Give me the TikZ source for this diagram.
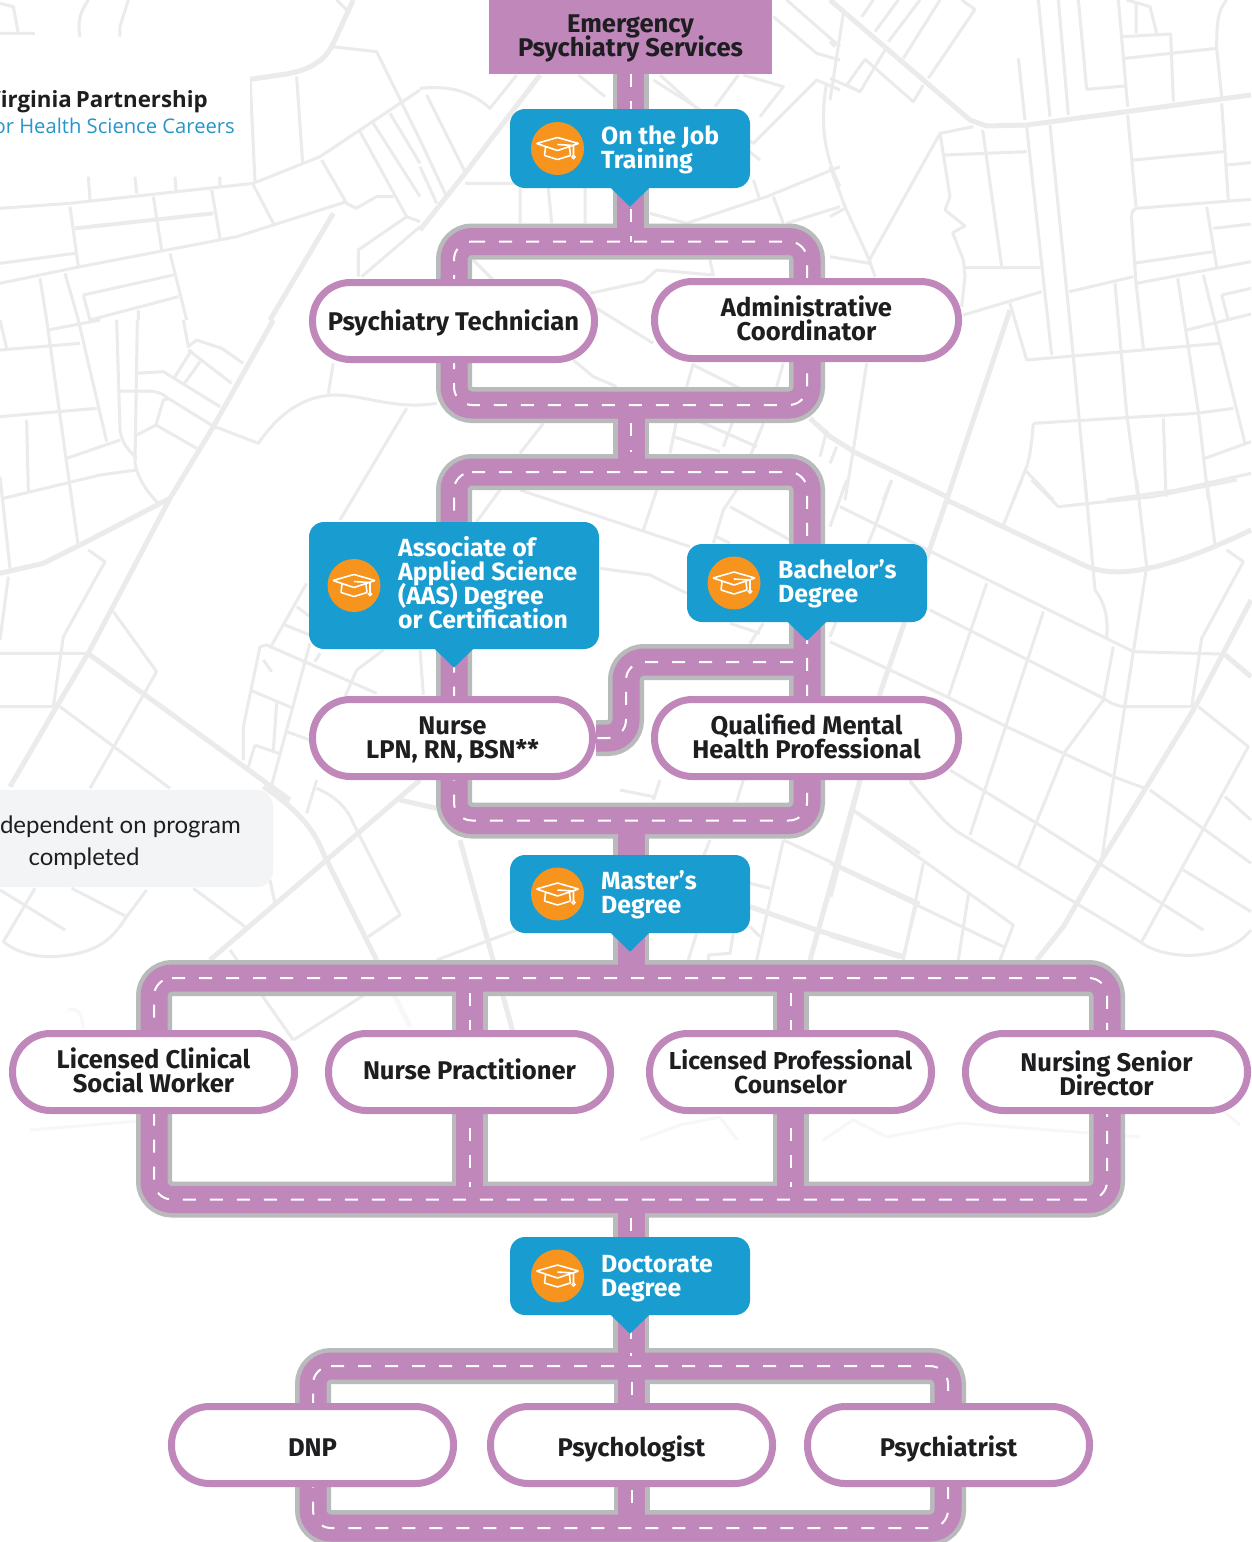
\documentclass[tikz,border=0pt]{standalone}
\usepackage{fontspec}
\setmainfont{Fira Sans}
\newfontfamily\logofont{Open Sans}
\newfontfamily\notefont{Lato}
\usetikzlibrary{calc}
\definecolor{roadpurple}{HTML}{C087BB}
\definecolor{roadgray}{HTML}{B9BABC}
\definecolor{calloutblue}{HTML}{199CCF}
\definecolor{iconorange}{HTML}{F7941E}
\definecolor{mapgray}{HTML}{EBEBEB}
\definecolor{mapfaint}{HTML}{F7F7F7}
\definecolor{notebg}{HTML}{F3F4F6}
\definecolor{inkdark}{HTML}{1E1E20}
\definecolor{logoblue}{HTML}{2796C8}
\pgfdeclarelayer{maplayer}
\pgfdeclarelayer{rg}
\pgfdeclarelayer{rp}
\pgfdeclarelayer{rw}
\pgfsetlayers{maplayer,rg,rp,rw,main}
\newcommand{\tightlines}{\lineskiplimit=-100pt\relax}
\newcommand{\tightword}{\spaceskip=4pt\relax}
\tikzset{
  mapthin/.style={draw=mapgray,line width=3pt,line join=round},
  mapthick/.style={draw=mapgray,line width=5pt,line join=round},
  mapfade/.style={draw=mapfaint,line width=3pt,line join=round},
  roadbase/.style={draw=roadgray,line width=36pt},
  roadtop/.style={draw=roadpurple,line width=27pt},
  roaddash/.style={draw=white,line width=2pt,dash pattern=on 13pt off 14pt},
  pillshape/.style={draw=roadpurple,line width=7pt,fill=white,rounded corners=38pt,inner sep=0pt,minimum height=77pt},
  pilltext/.style={inner sep=0pt,align=center,text=inkdark,font=\bfseries\fontsize{25.6}{24}\selectfont\tightlines},
  smallpilltext/.style={pilltext,font=\bfseries\fontsize{24.5}{24}\selectfont\tightlines},
  callout/.style={fill=calloutblue,rounded corners=15pt,inner sep=0pt},
  callouttext/.style={anchor=west,text=white,align=left,inner sep=0pt,font=\bfseries\fontsize{24.8}{24}\selectfont\tightlines},
  iconcircle/.style={circle,fill=iconorange,minimum size=53pt,inner sep=0pt},
  gradcap/.pic={
    \draw[white,line width=1.6pt,line join=round,rounded corners=0.5pt]
      (-21,-5) -- (0,-11) -- (21,-5) -- (0,2) -- cycle
      (-12,-1) -- (-13,7) -- (0,11) -- (13,7) -- (12,-1)
      (0,-4) -- (16,-3) -- (16,7);
    \draw[white,line width=1.3pt] (16,8.5) circle (1.6);
  }
}
% road: grey bed, purple surface, white centre line; #1 = options of the white line only
\newcommand{\road}[2][]{%
  \begin{pgfonlayer}{rg}\draw[roadbase] #2;\end{pgfonlayer}%
  \begin{pgfonlayer}{rp}\draw[roadtop] #2;\end{pgfonlayer}%
  \begin{pgfonlayer}{rw}\draw[roaddash,#1] #2;\end{pgfonlayer}}
\newcommand{\plainroad}[1]{%
  \begin{pgfonlayer}{rg}\draw[roadbase] #1;\end{pgfonlayer}%
  \begin{pgfonlayer}{rp}\draw[roadtop] #1;\end{pgfonlayer}}
\newcommand{\calloutnode}[6]{% name, x1,y1,x2,y2, icon x
  \node[callout,minimum width=#4pt-#2pt,minimum height=#5pt-#3pt] (#1) at ({(#2+#4)/2},{(#3+#5)/2}) {};
  \fill[calloutblue] ($(#1.south)+(-20,-1)$) -- ($(#1.south)+(0,18.5)$) -- ($(#1.south)+(20,-1)$) -- cycle;
  \node[iconcircle] (#1icon) at (#6,{(#3+#5)/2}) {};
  \pic at (#1icon) {gradcap};
}
\newcommand{\pillnode}[7][pilltext]{% text style, name, cx, cy, inner width, text cy, text
  \node[pillshape,minimum width=#5pt] (#2) at (#3,#4) {};
  \node[#1] (#2t) at (#3,#6) {#7};
}
\begin{document}
\begin{tikzpicture}[x=1pt,y=-1pt]
\useasboundingbox (0,0) rectangle (1251,1542);
\begin{pgfonlayer}{maplayer}
\fill[white] (0,0) rectangle (1251,1542);
% zoom A: top-left
\begin{scope}[shift={(0,0)},x=0.33333pt,y=-0.33333pt]
\draw[mapthin] (0,625)--(210,610)--(760,550)--(960,470)--(1260,270)
 (750,230)--(765,545) (890,230)--(908,490) (995,140)--(1130,155)--(1260,420)
 (965,480)--(1040,610)--(1068,625)--(1130,590)--(1180,590)
 (1170,340)--(1260,490) (1120,370)--(1260,590) (1080,395)--(1220,650)--(1260,665)
 (1220,650)--(1075,750)--(1075,830) (1260,680)--(1085,830)
 (760,555)--(820,670) (265,530)--(270,600) (405,530)--(410,580) (525,530)--(528,570) (660,530)--(660,555)
 (210,620)--(235,800) (460,590)--(485,750) (635,570)--(660,715)
 (0,790)--(225,760) (0,850)--(240,800)--(710,710)--(1040,605)
 (510,760)--(560,960) (120,835)--(140,960) (195,820)--(235,960)
 (250,885)--(520,825) (250,885)--(270,960)--(535,890) (415,930)--(415,960)
 (0,10)--(40,20)--(55,100) (0,100)--(105,100)
 (240,110) .. controls (230,60) and (245,30) .. (265,0) (360,110)--(360,80)--(385,0) (1010,0)--(1040,30);
\draw[mapthin,line width=4pt] (225,685)--(640,640);
\draw[mapthick] (750,238)--(860,222) .. controls (950,205) and (980,170) .. (1000,130)--(1060,0);
\draw[mapthick] (1000,640)--(810,960);
\end{scope}
% zoom B: centre top
\begin{scope}[shift={(420,0)},x=0.33333pt,y=-0.33333pt]
\draw[mapthin] (0,265) .. controls (100,255) and (160,280) .. (210,325)--(290,225)
 (20,285)--(135,515) (0,420)--(80,590) (0,500)--(50,610) (135,550)--(290,550)
 (300,560)--(300,670) (385,565)--(395,670) (495,565)--(495,670)
 (160,780)--(215,835) (475,225)--(555,290)
 (1100,0)--(1260,140) (720,225)--(880,370)--(1020,480) (700,240)--(1000,430)--(1190,240)--(1260,270)
 (955,225)--(885,320) (970,225)--(1090,260)--(1020,350)
 (1260,500)--(1040,590)--(800,670)--(690,640) (1000,540)--(1020,600) (1060,590)--(1090,670) (1260,620)--(1100,670)
 (1060,50)--(1190,160)--(1260,180);
\draw[mapthin] (1220,250) .. controls (1200,360) and (1210,460) .. (1260,560);
\draw[mapthick] (360,225)--(135,520)--(0,690);
\end{scope}
% zoom C: right top
\begin{scope}[shift={(830,0)},x=0.33333pt,y=-0.33333pt]
\draw[mapthick] (0,0)--(420,360)--(470,378)--(590,375)--(1263,285);
\draw[mapthick] (540,930)--(350,1500);
\draw[mapthick] (-60,1255)--(0,1310)--(80,1360)--(350,1490);
\draw[mapthin] (625,0)--(660,350) (685,0)--(715,345) (745,0)--(770,268)--(885,258)
 (865,0)--(893,320) (890,0)--(960,20)--(980,100) (918,10)--(918,100)
 (878,110)--(1022,102)--(1030,305) (885,175)--(1160,145)
 (1190,0) .. controls (1165,30) and (1160,60) .. (1160,145)--(1175,290)
 (565,175)--(585,360) (1175,310)--(1195,600) (1190,495)--(1263,488)
 (893,345)--(918,620) (910,480)--(1180,455) (430,380)--(330,400)--(118,780)
 (330,400)--(360,590)--(345,630)--(405,678)--(368,698)--(400,780)--(405,830)--(395,920)
 (405,803)--(630,803) (345,465)--(590,455) (458,390)--(515,800)
 (590,380)--(665,1065) (660,375)--(730,1070)--(770,1500)
 (400,945)--(635,875) (718,875)--(910,830) (920,850)--(1263,785)
 (920,625) .. controls (905,630) and (905,640) .. (905,660)--(918,850)--(940,1045)
 (920,625)--(1263,598) (1130,620)--(1160,800) (1150,685)--(1263,672) (910,790)--(1150,755)
 (855,850)--(890,1240)--(925,1500) (1043,835)--(1105,1235)--(1135,1500) (1120,825)--(1245,1330)
 (540,910)--(590,1080)--(1170,1030) (1175,885)--(1263,865) (1175,885)--(1195,960)
 (1070,990)--(1263,942) (610,1270)--(1100,1240)--(1210,1225)
 (610,1270) .. controls (605,1330) and (600,1370) .. (590,1400)--(550,1500) (590,1415)--(670,1500)
 (1000,1255)--(1008,1490) (1125,1375)--(1263,1325) (830,1500)--(1040,1470)--(1263,1420)
 (40,40)--(0,300) (130,0)--(95,50) (205,0)--(135,95) (270,0)--(175,125)
 (165,150)--(90,275)--(0,235) (90,275)--(50,255)--(105,178)--(250,305)--(280,255)
 (330,0)--(220,175) (395,0)--(435,28)--(295,235) (0,125)--(15,140)
 (0,500)--(45,620)--(118,780)--(135,830) (0,650)--(45,625) (0,770)--(118,790)
 (110,1090)--(70,1350)--(45,1500) (185,1440)--(160,1500) (20,1340)--(0,1390);
\end{scope}
% zoom D: centre
\begin{scope}[shift={(430,250)},x=0.33333pt,y=-0.33333pt]
\draw[mapthin] (130,30)--(190,90) (480,130)--(640,95)--(680,60)--(850,75)--(840,30)
 (500,175)--(670,280) (430,330)--(490,380)--(560,410) (790,340)--(770,410) (790,345)--(930,415) (1060,340)--(1040,410)
 (340,520)--(270,610) (740,510)--(720,610) (730,560)--(870,605) (800,510)--(980,590) (910,510)--(880,590) (1000,520)--(960,620)
 (1190,540)--(1170,620)
 (210,720)--(140,815) (270,720)--(780,890) (680,720)--(640,840) (920,720)--(880,780)--(850,880) (900,770)--(1080,870) (860,860)--(900,880)
 (510,955)--(660,975)--(770,1030) (900,1120)--(990,1150) (960,1180)--(1000,1120);
\end{scope}
% zoom E: right middle
\begin{scope}[shift={(830,480)},x=0.33333pt,y=-0.33333pt]
\draw[mapthick] (350,60)--(750,250) .. controls (830,290) and (950,300) .. (1263,150);
\draw[mapthick] (350,60)--(150,640)--(90,900)--(0,1250);
\draw[mapthick] (1263,360)--(1090,690)--(950,920)--(815,1140)--(700,1340)--(620,1440);
\draw[mapthick] (1180,520)--(1263,590) (0,1365)--(210,1430);
\draw[mapthin] (30,80)--(910,515)--(1170,522) (185,0)--(135,140)--(0,470) (50,0)--(0,140)
 (300,390)--(820,655) .. controls (850,675) and (870,680) .. (890,680)--(1085,680)
 (0,485)--(350,650)--(530,740)--(850,890)--(945,925)
 (575,0)--(520,135) (470,310)--(355,650) (640,395)--(420,1065)
 (605,0)--(685,80)--(970,50)--(1220,0)
 (765,0)--(795,330) .. controls (825,370) and (835,410) .. (830,475)
 (920,0)--(950,260)--(910,515)--(850,900)--(815,1140) (1130,0)--(1155,195)
 (850,500)--(820,660)--(705,815)--(565,1160)
 (1190,210)--(1240,245)--(1115,475)--(1085,680)
 (1105,680)--(1255,800)--(935,1385)
 (360,870)--(620,1030)--(1120,1350) (960,930)--(1263,1150) (1185,950)--(1263,1020)
 (240,905) .. controls (290,960) and (340,1030) .. (390,1060)--(930,1385) .. controls (1000,1440) and (1180,1450) .. (1263,1350)
 (1060,1170)--(1263,1295) (75,995)--(550,1335)--(510,1440)
 (0,1150)--(520,1400) (280,1150)--(220,1440) (415,1245)--(385,1440);
\end{scope}
% zoom F: left middle
\begin{scope}[shift={(0,320)},x=0.33333pt,y=-0.33333pt]
\draw[mapthin] (0,90)--(240,70) (145,30)--(300,0) (140,0)--(235,680) (235,0)--(320,365)
 (0,290)--(290,265) (80,300)--(85,515) (0,0)--(20,85) (0,470)--(30,745)
 (10,535)--(300,465)--(410,450) (200,415)--(360,360)
 (350,0)--(360,330) .. controls (365,370) and (385,390) .. (410,415)
 (412,0)--(405,430) .. controls (415,480) and (445,520) .. (475,550)
 (360,213)--(430,213) .. controls (460,213) and (480,215) .. (500,232)--(650,325)
 (410,160)--(490,155)--(660,260)
 (550,0)--(565,80)--(590,60)--(665,85)--(730,130)
 (575,90)--(525,170) (600,125)--(550,195) (565,90)--(695,190)
 (508,235)--(490,240)--(468,315)--(590,385) (410,345)--(468,315)
 (645,320)--(775,370) .. controls (830,290) and (900,230) .. (1000,225) .. controls (1100,225) and (1180,270) .. (1310,250)
 (1000,130)--(985,220) (1220,265)--(1020,600) (920,790)--(810,985)
 (1130,1120)--(800,975)--(780,980)--(730,1220)--(730,1320)
 (890,860)--(930,890) (855,915)--(930,945) (930,970)--(815,1395)
 (750,1110)--(880,1165) (830,1150)--(820,1290) (765,1275)--(835,1300) (765,1275)--(745,1340) (860,1235)--(930,1260)
 (960,1000)--(945,1025) (1150,990)--(1070,1050)--(1035,1130) (1260,990)--(1270,1125) (790,1020)--(815,1055)
 (0,1000)--(270,1000) (0,1160)--(170,1160) (180,1160)--(510,1405)
 (265,690)--(315,725)--(190,950)--(160,1160) (25,770)--(0,960)
 (340,875)--(470,1055)--(270,1405);
\draw[mapthick] (820,0)--(640,320)--(510,535)--(270,990)--(170,1160)--(30,1400);
\draw[mapthick] (0,760)--(130,730)--(250,670)--(510,535);
\draw[mapthick] (270,1005)--(870,1440);
\end{scope}
% zoom G: lower left
\begin{scope}[shift={(0,780)},x=0.33333pt,y=-0.33333pt]
\draw[mapthick] (790,20) .. controls (880,80) and (940,140) .. (970,220)--(1130,540);
\draw[mapthick] (1260,0)--(630,540) (1200,60)--(1310,85) (1380,180)--(1540,760);
\draw[mapthin] (950,0)--(920,100) (950,25) .. controls (1010,50) and (1045,90) .. (1060,130)--(1200,405)--(1105,470)
 (810,300)--(825,370) (580,325)--(735,440)
 (105,325)--(10,485) .. controls (60,525) and (120,530) .. (150,530) .. controls (300,525) and (340,470) .. (380,410)--(440,330)
 (215,325)--(380,410) (0,330)--(195,450)
 (690,510)--(880,780) (1100,640)--(880,780) (1310,540)--(1550,450);
\draw[mapthick,draw=mapfaint] (1130,540)--(1230,740);
\draw[mapfade] (205,690) .. controls (240,680) and (245,710) .. (250,745);
\end{scope}
% zoom H: centre below
\begin{scope}[shift={(620,780)},x=0.33333pt,y=-0.33333pt]
\draw[mapthick] (720,0)--(570,540) (390,380)--(590,450)--(850,530);
\draw[mapthin] (700,90)--(900,220) (490,180)--(410,540) (490,180)--(900,370)
 (390,310)--(450,325) (270,180)--(250,230) (230,460)--(205,540)
 (340,460)--(330,520)--(265,525)--(265,540) (390,440)--(420,470)
 (890,370)--(850,530) (870,0)--(900,40) (0,30)--(100,50) (120,0)--(100,60) (370,0)--(350,65);
\end{scope}
% faint lower part
\draw[mapfade] (640,1140)--(680,1125)--(720,1117)--(737,1140) (823,1140)--(853,1120)--(887,1137)--(960,1123)--(1140,1137)
 (1140,1040)--(1180,1075)--(1240,1125) (1000,1040)--(1070,1100)--(1130,1060)
 (30,1130)--(150,1120) (880,1040)--(930,1085);
% logo panel
\fill[white] (0,37) rectangle (250,176);
\end{pgfonlayer}

% logo and note
\node[anchor=east,inner sep=0pt,text=inkdark,font=\logofont\bfseries\fontsize{22.3}{24}\selectfont\tightword] (logoa) at (208,102) {Virginia Partnership};
\node[anchor=east,inner sep=0pt,text=logoblue,font=\logofont\fontsize{20.2}{24}\selectfont] (logob) at (235,126) {for Health Science Careers};
\fill[notebg,rounded corners=16pt] (-40,790) rectangle (273,887);
\node[anchor=east,inner sep=0pt,text=inkdark,font=\notefont\fontsize{24}{24}\selectfont] (notea) at (241,827) {dependent on program};
\node[inner sep=0pt,text=inkdark,font=\notefont\fontsize{24}{24}\selectfont] (noteb) at (84,859) {completed};

% terminal box
\node[fill=roadpurple,minimum width=283pt,minimum height=74pt,inner sep=0pt] (top) at (630.5,37) {};
\node[pilltext] (topt) at (630.5,38) {Emergency\\Psychiatry Services};

% callouts
\calloutnode{ojt}{510}{109}{750}{188}{557.5}
\node[callouttext] (ojtt) at (601,150) {On the Job\\Training};
\calloutnode{aas}{309}{522}{599}{649}{354}
\node[callouttext] (aast) at (398,583) {Associate of\\Applied Science\\(AAS) Degree\\or Certification};
\calloutnode{bach}{687}{544}{927}{622}{734}
\node[callouttext] (bacht) at (778,584) {Bachelor’s\\Degree};
\calloutnode{mast}{510}{855}{750}{933}{557.5}
\node[callouttext] (mastt) at (601,895) {Master’s\\Degree};
\calloutnode{doct}{510}{1237}{750}{1315}{557.5}
\node[callouttext] (doctt) at (601,1278.5) {Doctorate\\Degree};

% pills
\pillnode{tech}{453.5}{321}{282}{323}{Psychiatry Technician}
\pillnode{admin}{806.5}{320}{304}{318}{Administrative\\Coordinator}
\pillnode{nurse}{452.5}{738}{280}{740}{Nurse\\LPN, RN, BSN**}
\pillnode{qmhp}{806.5}{738}{304}{736}{Qualified Mental\\Health Professional}
\pillnode{lcsw}{153.5}{1072}{282}{1070}{Licensed Clinical\\Social Worker}
\pillnode{np}{469.5}{1072}{282}{1069}{Nurse Practitioner}
\pillnode[smallpilltext]{lpc}{790.5}{1072}{282}{1072}{Licensed Professional\\Counselor}
\pillnode{nsd}{1106.5}{1072}{282}{1073}{Nursing Senior\\Director}
\pillnode{dnp}{312.5}{1445}{282}{1448}{DNP}
\pillnode{psyg}{631.5}{1445}{282}{1449}{Psychologist}
\pillnode{psyt}{948.5}{1445}{282}{1449}{Psychiatrist}

% road corners
\coordinate (la) at (454,241.5); \coordinate (lb) at (807,241.5); \coordinate (lc) at (807,405); \coordinate (ld) at (454,405);
\coordinate (ma) at (454,472); \coordinate (mb) at (807,472); \coordinate (mc) at (807,820.5); \coordinate (md) at (454,820.5);
\coordinate (na) at (154,978); \coordinate (nb) at (1107,978); \coordinate (nc) at (1107,1199.5); \coordinate (nd) at (154,1199.5);
\coordinate (oa) at (313,1366); \coordinate (ob) at (948,1366); \coordinate (oc) at (948,1528); \coordinate (od) at (313,1528);
\coordinate (bend1) at (807,662); \coordinate (bend2) at (626,662); \coordinate (bend3) at (626,738);
\coordinate (h1) at (631,405); \coordinate (h2) at (631,472); \coordinate (h3) at (631,820.5); \coordinate (h4) at (631,978);
\coordinate (h5) at (631,1199.5); \coordinate (h6) at (631,1366);

% roads
\road{[rounded corners=18pt] (la) -- (lb) -- (lc) -- (ld) -- cycle}
\road{[rounded corners=18pt] (ma) -- (mb) -- (mc) -- (md) -- cycle}
\road{[rounded corners=18pt] (na) -- (nb) -- (nc) -- (nd) -- cycle}
\road{[rounded corners=18pt] (oa) -- (ob) -- (oc) -- (od) -- cycle}
\road[shorten <=14pt]{[rounded corners=18pt] (bend1) -- (bend2) -- (bend3) -- (nurse.east)}
\road{(top.south) -- (top.south |- la)}
\road[shorten <=18pt,shorten >=20pt]{(h1) -- (h2)}
\plainroad{(h3) -- (h4)}
\road[shorten <=18pt,shorten >=10pt]{(h5) -- (h6)}
\road[shorten <=15pt,shorten >=13pt]{(np.center |- na) -- (np.center |- nd)}
\road[shorten <=15pt,shorten >=13pt]{(lpc.center |- na) -- (lpc.center |- nd)}
\road[shorten <=16pt,shorten >=12pt]{(psyg.center |- oa) -- (psyg.center |- od)}
\end{tikzpicture}
\end{document}
